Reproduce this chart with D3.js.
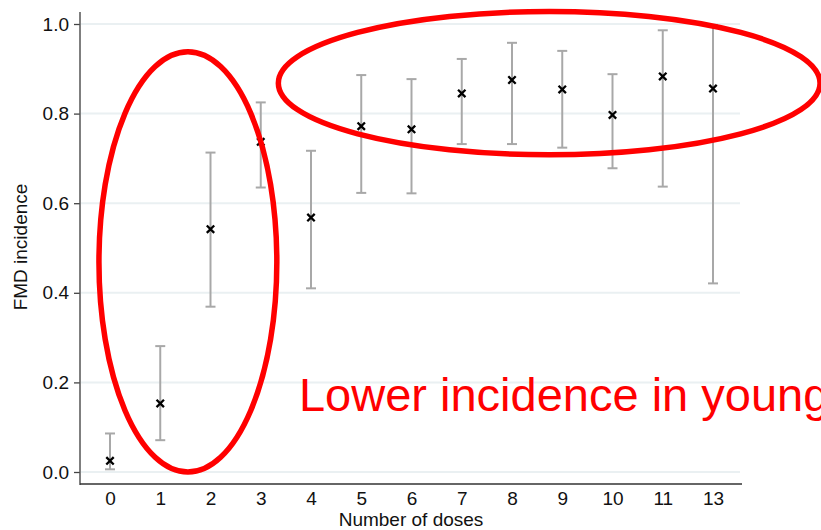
<!DOCTYPE html>
<html>
<head>
<meta charset="utf-8">
<script src="https://cdn.jsdelivr.net/npm/d3@7"></script>
<style>
  html, body { margin: 0; padding: 0; background: #fff; }
  svg { display: block; font-family: "Liberation Sans", Arial, sans-serif; }
</style>
</head>
<body>
<svg id="chart" width="821" height="530"></svg>
<script>
// ---- data ----
const doses = ["0", "1", "2", "3", "4", "5", "6", "7", "8", "9", "10", "11", "13"];
const incidence = [0.025, 0.153, 0.542, 0.737, 0.568, 0.772, 0.765, 0.845, 0.875, 0.854, 0.797, 0.883, 0.856];
const lower = [0.006, 0.071, 0.369, 0.635, 0.410, 0.623, 0.622, 0.732, 0.732, 0.724, 0.678, 0.637, 0.421];
const upper = [0.086, 0.281, 0.713, 0.825, 0.717, 0.886, 0.877, 0.922, 0.958, 0.940, 0.888, 0.986, 0.998];
const yTicks = [0.0, 0.2, 0.4, 0.6, 0.8, 1.0];
const xTitle = "Number of doses";
const yTitle = "FMD incidence";
const noteText = "Lower incidence in young";
// annotation ellipses in data units: [centre index, centre value, radius in index units, radius in value units]
const ellipseYoung = [1.55, 0.469, 1.77, 0.469];
const ellipseOld = [8.74, 0.868, 5.39, 0.160];
const notePos = [3.76, 0.137];

// ---- layout ----
const svg = d3.select("#chart");
const x = d3.scalePoint().domain(doses).range([110, 713]);
const xi = d3.scaleLinear().domain([0, doses.length - 1]).range([110, 713]);
const y = d3.scaleLinear().domain([0, 1]).range([472, 24]);
const axisLeftX = 80, axisBottomY = 484, plotRight = 741;
const fs = 19;

// gridlines
svg.append("g").selectAll("line").data(yTicks).join("line")
  .attr("x1", axisLeftX + 1).attr("x2", plotRight - 1)
  .attr("y1", d => y(d)).attr("y2", d => y(d))
  .attr("stroke", "#eaf0f2").attr("stroke-width", 2);

// y axis
const yAxis = d3.axisLeft(y).tickValues(yTicks).tickFormat(d3.format(".1f")).tickSize(6).tickPadding(5);
const gy = svg.append("g").attr("transform", `translate(${axisLeftX},0)`).call(yAxis);
gy.select(".domain").remove();
gy.selectAll(".tick line").attr("stroke", "#444").attr("stroke-width", 1.3);
gy.selectAll(".tick text").attr("font-size", fs).attr("fill", "#111")
  .attr("font-family", '"Liberation Sans", Arial, sans-serif');
svg.append("line").attr("x1", axisLeftX).attr("x2", axisLeftX).attr("y1", 12).attr("y2", axisBottomY + 1)
  .attr("stroke", "#555").attr("stroke-width", 1.5);

// x axis
const xAxis = d3.axisBottom(x).tickSize(0).tickPadding(8);
const gx = svg.append("g").attr("transform", `translate(0,${axisBottomY})`).call(xAxis);
gx.select(".domain").remove();
gx.selectAll(".tick text").attr("font-size", fs).attr("fill", "#111")
  .attr("font-family", '"Liberation Sans", Arial, sans-serif');
svg.append("line").attr("x1", axisLeftX).attr("x2", plotRight + 1).attr("y1", axisBottomY).attr("y2", axisBottomY)
  .attr("stroke", "#333").attr("stroke-width", 1.5);

// axis titles
svg.append("text").attr("x", 411).attr("y", 526).attr("text-anchor", "middle")
  .attr("font-size", fs).attr("fill", "#111").text(xTitle);
svg.append("text").attr("transform", "translate(27,247) rotate(-90)").attr("text-anchor", "middle")
  .attr("font-size", fs).attr("fill", "#111").text(yTitle);

// error bars
const rows = doses.map((d, i) => ({ d, v: incidence[i], lo: lower[i], hi: upper[i] }));
const eb = svg.append("g").attr("stroke", "#a8a8a8").attr("stroke-width", 2).attr("fill", "none");
eb.selectAll("line.v").data(rows).join("line").attr("class", "v")
  .attr("x1", r => x(r.d)).attr("x2", r => x(r.d)).attr("y1", r => y(r.lo)).attr("y2", r => y(r.hi));
eb.selectAll("line.t").data(rows).join("line").attr("class", "t")
  .attr("x1", r => x(r.d) - 5).attr("x2", r => x(r.d) + 5).attr("y1", r => y(r.hi)).attr("y2", r => y(r.hi));
eb.selectAll("line.b").data(rows).join("line").attr("class", "b")
  .attr("x1", r => x(r.d) - 5).attr("x2", r => x(r.d) + 5).attr("y1", r => y(r.lo)).attr("y2", r => y(r.lo));

// point markers (x)
const mk = svg.append("g").attr("stroke", "#000").attr("stroke-width", 2.3);
const s = 3.7;
mk.selectAll("path").data(rows).join("path")
  .attr("d", r => `M${x(r.d) - s},${y(r.v) - s}L${x(r.d) + s},${y(r.v) + s}M${x(r.d) - s},${y(r.v) + s}L${x(r.d) + s},${y(r.v) - s}`);

// annotations
const ann = svg.append("g").attr("fill", "none").attr("stroke", "#ff0000").attr("stroke-width", 5.5);
[ellipseYoung, ellipseOld].forEach(e => {
  ann.append("ellipse")
    .attr("cx", xi(e[0])).attr("cy", y(e[1]))
    .attr("rx", xi(e[2]) - xi(0)).attr("ry", y(0) - y(e[3]));
});
svg.append("text").attr("x", xi(notePos[0])).attr("y", y(notePos[1]))
  .attr("font-size", 47).attr("fill", "#ff0000").text(noteText);
</script>
</body>
</html>
